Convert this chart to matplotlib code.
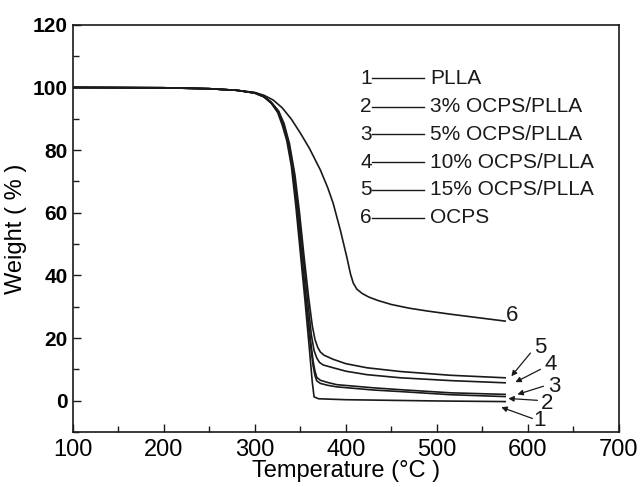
import numpy as np
import matplotlib
matplotlib.use("Agg")
import matplotlib.pyplot as plt
from matplotlib.ticker import MultipleLocator

plt.rcParams['font.family'] = ['Liberation Sans', 'DejaVu Sans']

# TGA curves (temperature in C, weight in %)
t_plla = [100, 200, 250, 280, 300, 310, 318, 325, 330, 335, 340, 345, 350, 355, 360, 363, 365, 370, 400, 450, 500, 575]
w_plla = [100, 99.9, 99.6, 99.1, 98.2, 97.0, 95.0, 92.0, 88.0, 83.0, 75.0, 62.0, 47.0, 32.0, 16.0, 6.0, 1.2, 0.6, 0.3, 0.1, -0.1, -0.3]

t_3 = [100, 200, 250, 280, 300, 310, 318, 326, 331, 336, 341, 346, 351, 356, 361, 364, 366, 368, 372, 380, 390, 410, 430, 460, 515, 575]
w_3 = [100, 99.9, 99.6, 99.1, 98.2, 97.0, 95.0, 92.0, 88.0, 83.0, 75.0, 62.0, 47.0, 32.0, 18.0, 11.0, 8.0, 6.3, 5.5, 4.9, 4.4, 3.9, 3.4, 2.9, 1.9, 1.3]

t_5 = [100, 200, 250, 280, 300, 310, 318, 326, 331, 336, 341, 346, 351, 356, 361, 364, 366, 368, 372, 380, 390, 410, 430, 460, 515, 575]
w_5 = [100, 99.9, 99.6, 99.1, 98.2, 97.0, 95.0, 92.1, 88.1, 83.2, 75.4, 62.6, 47.8, 33.0, 19.5, 12.5, 9.4, 7.4, 6.5, 5.8, 5.1, 4.6, 4.1, 3.5, 2.5, 2.0]

t_10 = [100, 200, 250, 280, 300, 310, 318, 326, 331, 337, 343, 348, 353, 358, 362, 365, 368, 371, 375, 386, 400, 423, 460, 515, 575]
w_10 = [100, 99.9, 99.6, 99.1, 98.3, 97.1, 95.2, 92.3, 88.3, 82.0, 72.0, 60.0, 46.0, 32.0, 21.0, 16.0, 13.6, 12.2, 11.4, 10.5, 9.4, 8.3, 7.3, 6.4, 5.7]

t_15 = [100, 200, 250, 280, 300, 310, 318, 326, 332, 338, 344, 349, 354, 359, 363, 366, 369, 372, 376, 386, 400, 423, 460, 515, 575]
w_15 = [100, 99.9, 99.6, 99.1, 98.3, 97.2, 95.3, 92.5, 88.5, 82.0, 72.0, 60.0, 46.0, 33.0, 24.0, 19.5, 17.0, 15.5, 14.5, 13.2, 11.8, 10.5, 9.3, 8.1, 7.3]

t_ocps = [100, 200, 250, 280, 300, 310, 320, 330, 340, 350, 360, 372, 380, 386, 394, 401, 405, 408, 412, 418, 425, 435, 450, 470, 490, 515, 545, 575]
w_ocps = [100, 99.9, 99.6, 99.1, 98.4, 97.5, 96.0, 93.5, 89.9, 85.4, 80.5, 73.6, 68.0, 63.0, 54.3, 45.8, 40.5, 37.6, 35.6, 34.2, 33.1, 32.0, 30.7, 29.5, 28.6, 27.6, 26.5, 25.4]

series = [(t_plla, w_plla), (t_3, w_3), (t_5, w_5), (t_10, w_10), (t_15, w_15), (t_ocps, w_ocps)]
names = ['PLLA', '3% OCPS/PLLA', '5% OCPS/PLLA', '10% OCPS/PLLA', '15% OCPS/PLLA', 'OCPS']

# end labels with arrows: (label pos, arrow tail, arrow head)
end_labels = ['1', '2', '3', '4', '5']
label_pos = [(612.6, -6.2), (621.5, -1.0), (629.0, 4.6), (624.8, 11.7), (613.8, 17.1)]
arrow_tail = [(605.0, -5.7), (610.5, 0.1), (617.1, 4.6), (613.8, 10.0), (602.8, 15.2)]
arrow_head = [(570.8, -2.1), (578.5, 0.7), (588.5, 2.0), (586.3, 5.9), (581.8, 7.8)]

fig = plt.figure(figsize=(6.4, 4.87), dpi=100)
ax = fig.add_axes([0.114, 0.113, 0.853, 0.836])

col = '#1a1a1a'
for t, w in series:
    ax.plot(t, w, color=col, lw=1.2)

# legend block
leg_y = [103.0, 93.9, 85.1, 76.2, 67.3, 58.4]
for i, (nm, y) in enumerate(zip(names, leg_y)):
    ax.text(422.3, y, str(i + 1), fontsize=15, ha='center', va='center', color=col)
    ax.plot([428.6, 485.4], [y, y], color=col, lw=1.0)
    ax.text(492.7, y, nm, fontsize=15, ha='left', va='center', color=col)

ax.text(583, 27.1, '6', fontsize=16, ha='center', va='center', color=col)
for lb, p, a, b in zip(end_labels, label_pos, arrow_tail, arrow_head):
    ax.text(p[0], p[1], lb, fontsize=16, ha='center', va='center', color=col)
    ax.annotate('', xy=b, xytext=a,
                arrowprops=dict(arrowstyle='-|>', color=col, lw=0.9,
                                mutation_scale=8, shrinkA=0, shrinkB=0))

ax.set_xlim(100, 700)
ax.set_ylim(-10, 120)
ax.xaxis.set_major_locator(MultipleLocator(100))
ax.xaxis.set_minor_locator(MultipleLocator(50))
ax.yaxis.set_major_locator(MultipleLocator(20))
ax.yaxis.set_minor_locator(MultipleLocator(10))
ax.tick_params(which='both', direction='in', color=col, width=1.0)
ax.tick_params(which='major', length=6)
ax.tick_params(which='minor', length=4)
ax.tick_params(axis='x', labelsize=17, pad=5)
ax.tick_params(axis='y', labelsize=15, pad=4)
for lab in ax.get_yticklabels():
    lab.set_fontweight('bold')
for s in ax.spines.values():
    s.set_linewidth(1.2)
    s.set_color(col)

ax.set_xlabel('Temperature (°C )', fontsize=17, labelpad=-1)
ax.set_ylabel('Weight ( % )', fontsize=17, labelpad=4)

fig.savefig('out.png', dpi=100)
